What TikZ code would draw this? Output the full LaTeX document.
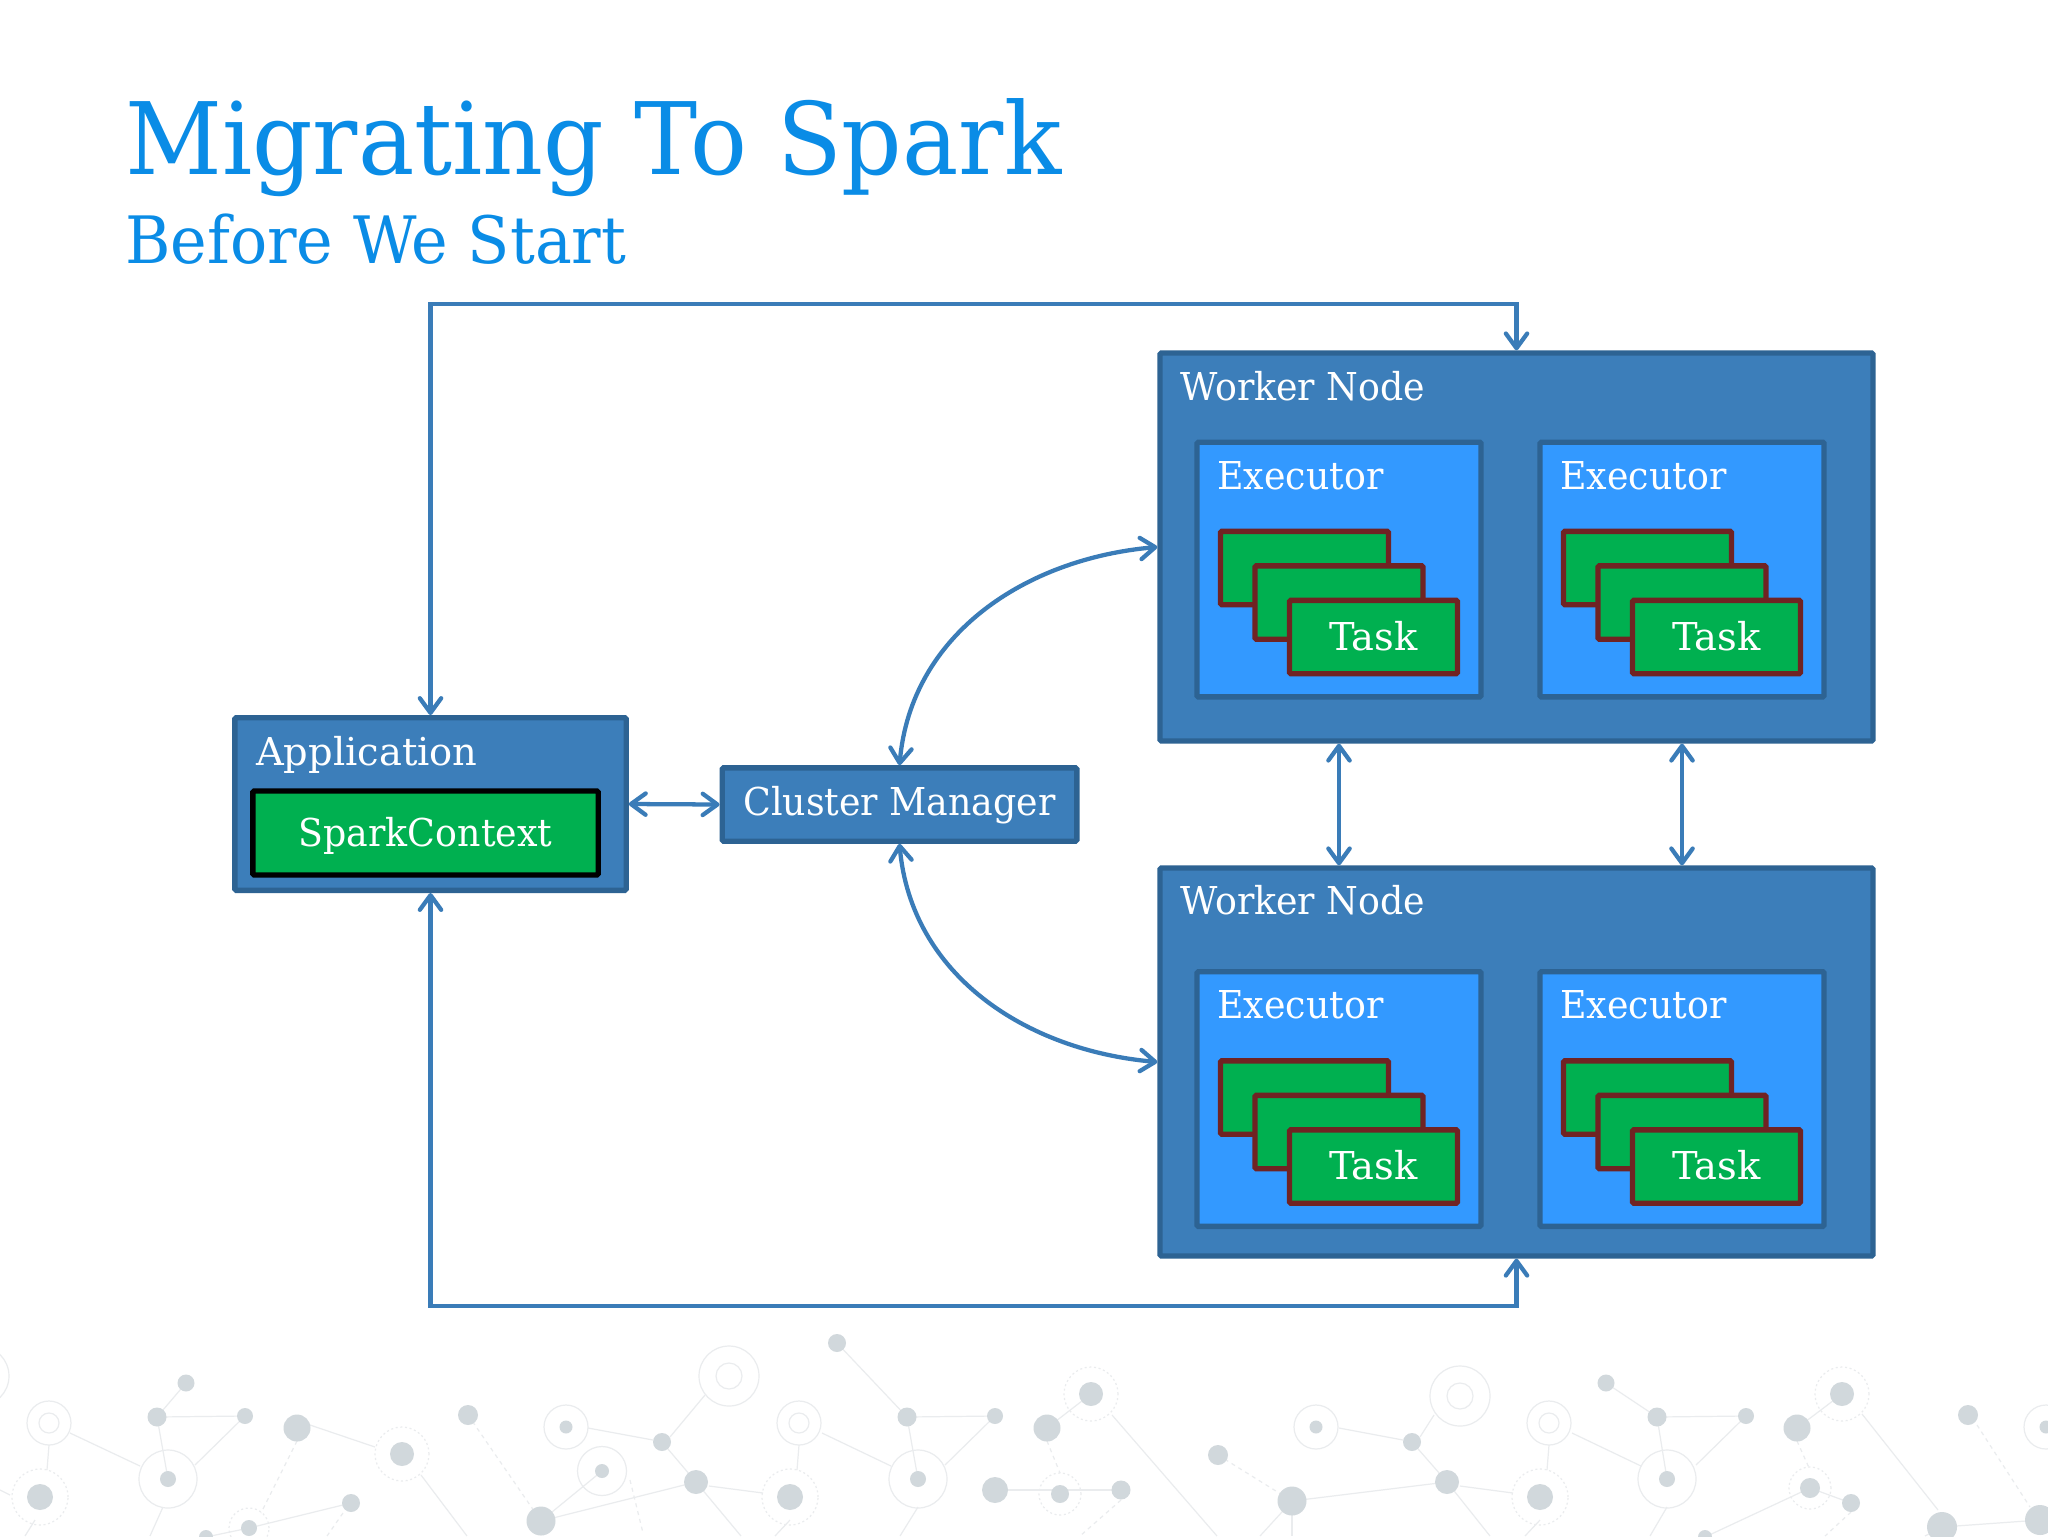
\documentclass[tikz,border=0pt]{standalone}
\usepackage{fontspec}
\setmainfont{DejaVu Serif}[FakeStretch=0.946]
\newfontfamily\widefont{DejaVu Serif}[FakeStretch=1.0]
\usetikzlibrary{arrows.meta}
\definecolor{titleblue}{HTML}{0A8CE6}
\definecolor{boxblue}{HTML}{3C7EBA}
\definecolor{boxline}{HTML}{2D6393}
\definecolor{execblue}{HTML}{3399FF}
\definecolor{taskgreen}{HTML}{00B050}
\definecolor{taskline}{HTML}{702323}
\definecolor{linkblue}{HTML}{3A7CB8}
\definecolor{dotgrey}{HTML}{D1D8DC}
\definecolor{meshgrey}{HTML}{EAECEE}

\begin{document}
\begin{tikzpicture}[>={Straight Barb[length=11pt,width=16pt,round]},x=0.75pt,y=-0.75pt,
	font=\fontsize{28.8pt}{32pt}\selectfont,text=white]
	\tikzstyle{every node}=[inner sep=0pt]
	\tikzstyle{mainbox}=[draw=boxline,fill=boxblue,line width=4pt,rounded corners=1pt]
	\tikzstyle{execbox}=[mainbox,fill=execblue,minimum width=213pt,minimum height=191pt]
	\tikzstyle{workerbox}=[mainbox,minimum width=534.75pt,minimum height=291pt]
	\tikzstyle{taskbox}=[mainbox,draw=taskline,fill=taskgreen,minimum width=126pt,minimum height=55pt,
		text height=19.5pt,text depth=0pt]
	\tikzstyle{boxlabel}=[anchor=base west]
	\tikzstyle{widelabel}=[font=\widefont\fontsize{28.8pt}{32pt}\selectfont]
	\tikzstyle{link}=[<->,draw=linkblue,line width=3.2pt]
	\tikzstyle{mesh}=[draw=meshgrey,line width=0.9pt]
	\tikzstyle{meshdash}=[mesh,dash pattern=on 3pt off 3pt]
	
	\fill[white] (0,0) rectangle (2048,1536);
	\useasboundingbox (0,0) rectangle (2048,1536);
	
	\begin{scope}
	\clip (0,0) rectangle (2048,1536);
	\foreach \ax/\ay/\bx/\by in {186/1383/157/1417,157/1417/245/1416,157/1417/168/1479,245/1416/195/1465,
		70/1433/140/1466,49/1445/47/1470,163/1507/150/1536,35/1520/25/1536,0/1490/10/1495,
		310/1425/375/1447,421/1475/467/1536,588/1428/653/1440,670/1437/705/1395,662/1442/696/1482,
		696/1482/541/1521,709/1486/763/1493,696/1482/741/1536,602/1471/541/1521,351/1503/249/1528,249/1528/206/1537,
		837/1343/907/1417,907/1417/995/1416,907/1417/918/1479,995/1416/945/1465,822/1433/891/1466,
		799/1445/797/1470,790/1520/775/1536,918/1507/900/1536,995/1490/1121/1490,1091/1394/1047/1428,
		1112/1415/1217/1536,1292/1501/1447/1482,1292/1501/1260/1536,1292/1501/1292/1536,1339/1428/1403/1440,
		1420/1437/1434/1415,1412/1442/1447/1482,1460/1486/1513/1493,1447/1482/1490/1536,1572/1433/1641/1466,
		1549/1445/1547/1470,1540/1520/1525/1536,1606/1383/1657/1417,1657/1417/1746/1416,1657/1417/1667/1479,
		1746/1416/1696/1465,1667/1507/1650/1536,1842/1394/1797/1428,1810/1488/1705/1537,1810/1488/1851/1503,
		1862/1414/1938/1510,1942/1527/2040/1520,1942/1527/1925/1536}
		\draw[mesh] (\ax,\ay) -- (\bx,\by);
	\foreach \ax/\ay/\bx/\by in {297/1441/261/1513,468/1415/541/1521,630/1480/643/1533,343/1513/327/1536,
		1047/1441/1060/1473,1121/1500/1080/1536,1218/1455/1292/1501,1797/1441/1810/1470,1851/1512/1825/1536,
		1977/1425/2030/1507}
		\draw[meshdash] (\ax,\ay) -- (\bx,\by);
	\foreach \cx/\cy/\r in {-21/1376/30,168/1479/29,49/1423/22,49/1423/10,566/1427/22,729/1376/30,729/1376/13,
		602/1471/24.5,799/1423/22,799/1423/10,918/1479/29,1316/1427/22,1460/1396/30,1460/1396/13,
		1549/1423/22,1549/1423/10,1667/1479/29,2046/1427/22}
		\draw[mesh] (\cx,\cy) circle (\r*0.75pt);
	\foreach \cx/\cy/\r in {40/1497/28,402/1454/27,249/1528/20,790/1497/28,1091/1394/27,1060/1494/21,
		1540/1497/28,1842/1394/27,1810/1488/21}
		\draw[meshdash,dash pattern=on 1.5pt off 2pt] (\cx,\cy) circle (\r*0.75pt);
	\foreach \cx/\cy/\r in {186/1383/8.5,157/1417/9.5,245/1416/8,168/1479/8,40/1497/13,297/1428/13.5,402/1454/12,
		468/1415/10,566/1427/6.5,662/1442/9,696/1482/12,602/1471/7,541/1521/14.5,351/1503/9,249/1528/8,206/1537/7,
		790/1497/13,837/1343/9,907/1417/9.5,995/1416/8,918/1479/8,995/1490/13,1091/1394/12,1047/1428/13.5,
		1060/1494/9,1121/1490/9.5,1218/1455/10,1316/1427/6.5,1412/1442/9,1447/1482/12,1292/1501/14.5,
		1540/1497/13,1606/1383/8.5,1657/1417/9.5,1746/1416/8,1667/1479/8,1842/1394/12,1797/1428/13.5,
		1810/1488/10,1851/1503/9,1968/1415/10,2046/1427/6.5,1942/1527/15,2040/1520/15,1705/1537/7}
		\fill[dotgrey] (\cx,\cy) circle (\r*0.75pt);
	\end{scope}
	
	\node[boxlabel,text=titleblue,font=\fontsize{75pt}{80pt}\selectfont] (title) at (125,174) {Migrating To Spark};
	\node[boxlabel,text=titleblue,font=\fontsize{49pt}{52pt}\selectfont] (subtitle) at (125,263.5) {Before We Start};
	
	\node[mainbox,minimum width=293.5pt,minimum height=129.5pt] (App) at (430.5,804) {};
	\node[boxlabel,widelabel] (Appl) at (256,765) {Application};
	\node[taskbox,draw=black,minimum width=259pt,minimum height=63pt] (Spark) at (425.5,833) {SparkContext};
	\node[mainbox,minimum width=266pt,minimum height=55pt,text height=16.5pt,text depth=0pt] (CM) at (899.5,804.5) {Cluster Manager};
	
	\node[workerbox] (W1) at (1516.5,547) {};
	\node[workerbox] (W2) at (1516.5,1062) {};
	\node[boxlabel] (W1l) at (1180,400) {Worker Node};
	\node[boxlabel] (W2l) at (1180,914) {Worker Node};
	
	\foreach \e/\x/\y in {a/1339/569.5,b/1682/569.5,c/1339/1099,d/1682/1099} {
		\node[execbox] (E\e) at (\x,\y) {};
		\node[boxlabel] (E\e l) at (\x-122,\y-80.5) {Executor};
		\node[taskbox] (T\e1) at (\x-34.5,\y-1.5) {};
		\node[taskbox] (T\e2) [below right of=T\e1,node distance=36.6pt] {};
		\node[taskbox,widelabel] (T\e3) [below right of=T\e2,node distance=36.6pt] {Task};
	}
	
	\coordinate (upA) at (430.5,304);
	\coordinate (upB) at (1516.5,304);
	\coordinate (downA) at (430.5,1306);
	\coordinate (downB) at (1516.5,1306);
	
	\draw[link] (App.north) -- (upA) -- (upB) -- (W1.north);
	\draw[link] (App.south) -- (downA) -- (downB) -- (W2.south);
	\draw[link] (App.east) -- (CM.west);
	\draw[link] (CM.north) to[out=85,in=185,looseness=1] (W1.west);
	\draw[link] (CM.south) to[out=-85,in=175,looseness=1] (W2.west);
	\draw[link] (Ea |- W1.south) -- (Ea |- W2.north);
	\draw[link] (Eb |- W1.south) -- (Eb |- W2.north);
\end{tikzpicture}
\end{document}
